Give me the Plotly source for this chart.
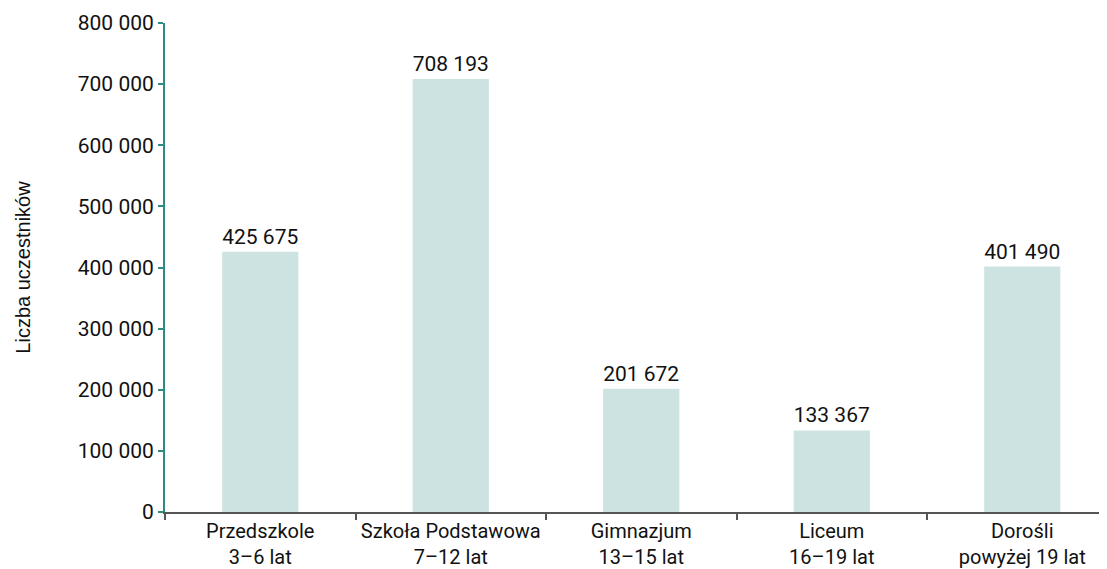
import plotly.graph_objects as go

categories = ["Przedszkole<br>3–6 lat", "Szkoła Podstawowa<br>7–12 lat", "Gimnazjum<br>13–15 lat",
              "Liceum<br>16–19 lat", "Dorośli<br>powyżej 19 lat"]
values = [425675, 708193, 201672, 133367, 401490]
y_ticks = [0, 100000, 200000, 300000, 400000, 500000, 600000, 700000, 800000]

fig = go.Figure(go.Bar(
    x=categories, y=values,
    marker=dict(color="#cde3e1", line=dict(width=0)),
    width=0.4,
    texttemplate="%{y:,d}", textposition="outside", cliponaxis=False,
    textfont=dict(family="Roboto", size=21, color="#111111"),
))

fig.update_layout(
    width=1099, height=561,
    margin=dict(l=157, r=7, t=15, b=57, autoexpand=False),
    paper_bgcolor="white", plot_bgcolor="white",
    separators=", ",
    showlegend=False,
    font=dict(family="Roboto", size=20, color="#111111"),
)
fig.update_yaxes(
    range=[0, 800000], tickvals=y_ticks, tickformat=",d",
    showgrid=False, zeroline=False, automargin=False,
    showline=True, linecolor="#2e8b80", linewidth=2,
    ticks="outside", ticklen=5, tickcolor="#2e8b80", tickwidth=2,
    tickfont=dict(family="Roboto", size=21, color="#111111"),
    title=dict(text="Liczba uczestników", font=dict(family="Liberation Sans", size=20, color="#111111"), standoff=42),
)
fig.update_xaxes(
    range=[-0.5, 4.408],
    showgrid=False, showline=True, linecolor="#555555", linewidth=2,
    automargin=False, tickangle=0,
    ticks="outside", tickson="boundaries", ticklen=6, tickcolor="#555555", tickwidth=2,
    tickfont=dict(family="Roboto", size=20, color="#111111"),
)

fig.write_html("out.html")
